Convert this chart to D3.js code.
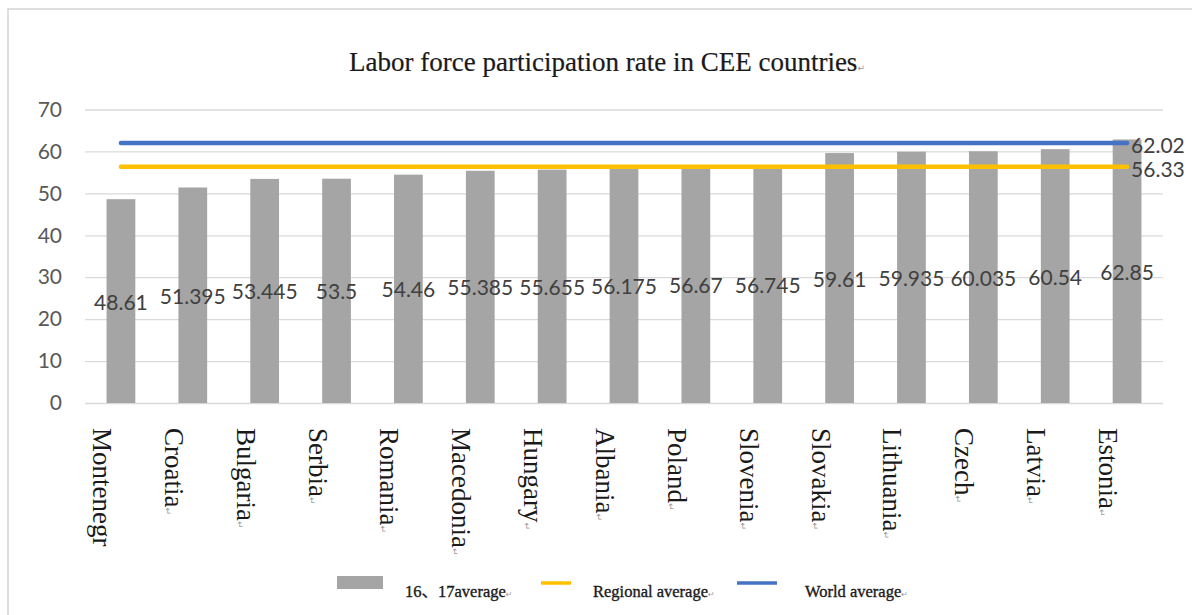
<!DOCTYPE html>
<html>
<head>
<meta charset="utf-8">
<script src="https://cdn.jsdelivr.net/npm/d3@7"></script>
<style>
    body { margin: 0; background: #fff; }
    svg { display: block; }
</style>
</head>
<body>
<svg id="chart" width="1192" height="615"></svg>
<script>
// chart data
const countries = ['Montenegr', 'Croatia', 'Bulgaria', 'Serbia', 'Romania', 'Macedonia', 'Hungary',
    'Albania', 'Poland', 'Slovenia', 'Slovakia', 'Lithuania', 'Czech', 'Latvia', 'Estonia'];
const avgValues = [48.61, 51.395, 53.445, 53.5, 54.46, 55.385, 55.655, 56.175,
    56.67, 56.745, 59.61, 59.935, 60.035, 60.54, 62.85];
const regionalAvg = 56.33;
const worldAvg = 62.02;
const yTicks = [0, 10, 20, 30, 40, 50, 60, 70];
const legendNames = ['16、17average', 'Regional average', 'World average'];
const titleText = 'Labor force participation rate in CEE countries';
const paraMark = '\u21b5';

const svg = d3.select('#chart');
const numFont = 'Lato, "Open Sans", sans-serif';
const serifFont = '"Liberation Serif", "Times New Roman", serif';

// outer frame
svg.append('rect')
    .attr('x', 8).attr('y', 9)
    .attr('width', 1200).attr('height', 620)
    .attr('fill', 'none')
    .attr('stroke', '#d4d4d4')
    .attr('stroke-width', 1.5);

// scales
const x = d3.scaleBand()
    .domain(countries)
    .range([85, 1163])
    .paddingInner(0.6)
    .paddingOuter(0.3);
const y = d3.scaleLinear().domain([0, 70]).range([403, 109.5]);
const cx = d => x(d) + x.bandwidth() / 2;

// title
const title = svg.append('text')
    .attr('x', 607).attr('y', 71)
    .attr('text-anchor', 'middle')
    .attr('font-family', serifFont)
    .attr('font-size', 27)
    .attr('fill', '#1a1a1a')
    .attr('stroke', '#1a1a1a').attr('stroke-width', 0.2)
    .text(titleText);
title.append('tspan')
    .attr('font-size', 9).attr('fill', '#999').attr('stroke', 'none')
    .attr('font-family', '"DejaVu Sans", sans-serif')
    .text(paraMark);

// grid + y axis
const yAxis = d3.axisLeft(y)
    .tickValues(yTicks)
    .tickSize(-(1163 - 85))
    .tickPadding(23);
const gy = svg.append('g')
    .attr('transform', 'translate(85,0)')
    .call(yAxis);
gy.select('.domain').remove();
gy.selectAll('.tick line').attr('stroke', '#d9d9d9').attr('stroke-width', 1.3);
gy.selectAll('.tick text')
    .attr('font-family', numFont)
    .attr('font-size', 21)
    .attr('fill', '#595959');

// bars
svg.append('g').selectAll('rect')
    .data(countries)
    .enter()
    .append('rect')
    .attr('x', d => x(d))
    .attr('y', (d, i) => y(avgValues[i]))
    .attr('width', x.bandwidth())
    .attr('height', (d, i) => y(0) - y(avgValues[i]))
    .attr('fill', '#a5a5a5');

// average lines
const first = countries[0], last = countries[countries.length - 1];
[[regionalAvg, '#ffc000'], [worldAvg, '#4472c4']].forEach(([v, c]) => {
    svg.append('line')
        .attr('x1', cx(first)).attr('x2', cx(last))
        .attr('y1', y(v)).attr('y2', y(v))
        .attr('stroke', c)
        .attr('stroke-width', 4.5)
        .attr('stroke-linecap', 'round');
    svg.append('text')
        .attr('x', cx(last) + 4)
        .attr('y', y(v) + 2)
        .attr('dominant-baseline', 'central')
        .attr('font-family', numFont)
        .attr('font-size', 21)
        .attr('fill', '#404040')
        .text(v);
});

// value labels (centered in bar)
svg.append('g').selectAll('text')
    .data(countries)
    .enter()
    .append('text')
    .attr('x', d => cx(d))
    .attr('y', (d, i) => y(avgValues[i] / 2))
    .attr('text-anchor', 'middle')
    .attr('dominant-baseline', 'central')
    .attr('font-family', numFont)
    .attr('font-size', 21)
    .attr('fill', '#404040')
    .text((d, i) => avgValues[i]);

// category labels, rotated
const cat = svg.append('g').selectAll('text')
    .data(countries)
    .enter()
    .append('text')
    .attr('transform', d => 'translate(' + (cx(d) - 28) + ',428) rotate(90)')
    .attr('font-family', serifFont)
    .attr('font-size', 27)
    .attr('fill', '#1a1a1a')
    .text(d => d);
cat.filter((d, i) => i > 0)
    .append('tspan')
    .attr('font-size', 9).attr('fill', '#999')
    .attr('font-family', '"DejaVu Sans", sans-serif')
    .text(paraMark);

// legend
const legend = svg.append('g');
legend.append('rect')
    .attr('x', 337).attr('y', 576)
    .attr('width', 46).attr('height', 13)
    .attr('fill', '#a5a5a5');
legend.append('line')
    .attr('x1', 541).attr('x2', 571).attr('y1', 583).attr('y2', 583)
    .attr('stroke', '#ffc000').attr('stroke-width', 3.5);
legend.append('line')
    .attr('x1', 737).attr('x2', 777).attr('y1', 583).attr('y2', 583)
    .attr('stroke', '#4472c4').attr('stroke-width', 3.5);
const legendX = [405, 593, 805];
legendNames.forEach((n, i) => {
    const t = legend.append('text')
        .attr('x', legendX[i]).attr('y', 597)
        .attr('font-family', serifFont + ', "Noto Sans CJK SC"')
        .attr('font-size', 16.5)
        .attr('fill', '#1a1a1a')
        .attr('stroke', '#1a1a1a').attr('stroke-width', 0.35)
        .text(n);
    t.append('tspan')
        .attr('font-size', 8).attr('fill', '#999').attr('stroke', 'none')
        .attr('font-family', '"DejaVu Sans", sans-serif')
        .text(paraMark);
});
</script>
</body>
</html>
